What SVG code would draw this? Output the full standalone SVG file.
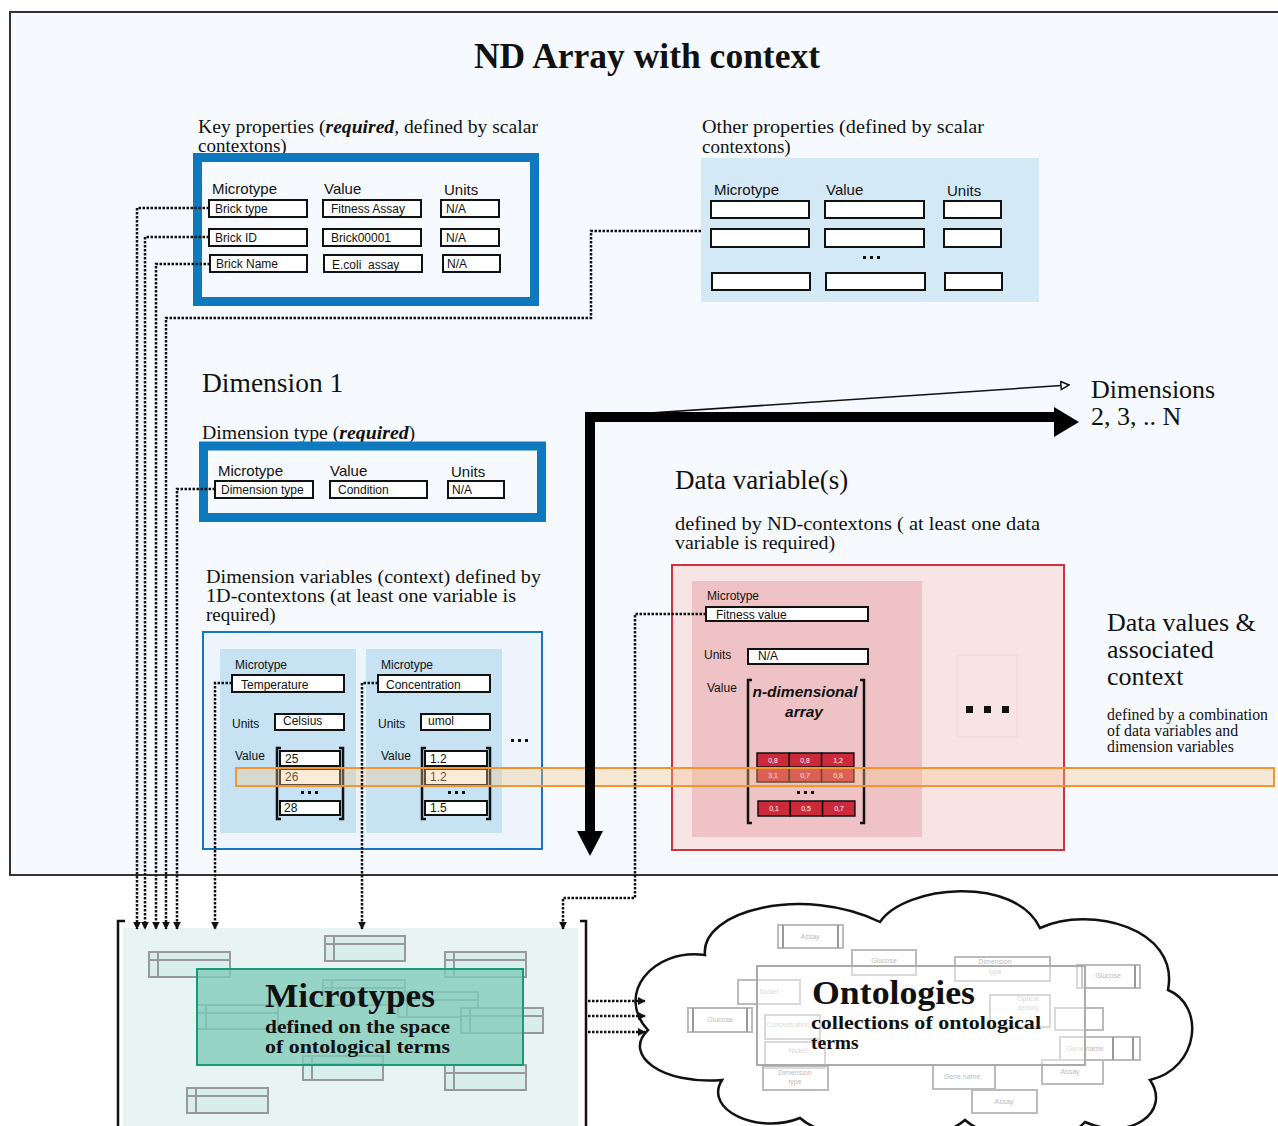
<svg xmlns="http://www.w3.org/2000/svg" width="1278" height="1126" viewBox="0 0 1278 1126">
<defs>
<style>
.serif{font-family:"Liberation Serif","Times New Roman",serif;fill:#111}
.sans{font-family:"Liberation Sans",Arial,sans-serif;fill:#111}
.hdr{font-family:"Liberation Sans",Arial,sans-serif;font-size:15px;fill:#111}
.lbl{font-family:"Liberation Sans",Arial,sans-serif;font-size:12px;fill:#111}
.fld{fill:#fff;stroke:#111;stroke-width:2}
.thick{fill:none;stroke:#0e7abd;stroke-width:9}
.dot{fill:none;stroke:#111;stroke-width:2.5;stroke-dasharray:2.5 1.5}
.brk{fill:none;stroke:#111;stroke-width:2.5}
.cell{fill:#cc2a3a;stroke:#111;stroke-width:1.5}
.cv{font-family:"Liberation Sans",Arial,sans-serif;font-size:7px;fill:#fff;text-anchor:middle}
.mt{fill:#d8eeea;stroke:#999;stroke-width:2}
.mtl{fill:none;stroke:#999;stroke-width:2}
.ob{fill:#fff;fill-opacity:0.5;stroke:#bbb;stroke-width:2}
.ot{font-family:"Liberation Sans",Arial,sans-serif;font-size:7px;fill:#bbb;text-anchor:middle}
</style>
<marker id="ah" viewBox="0 0 10 10" refX="9" refY="5" markerWidth="8" markerHeight="10" markerUnits="userSpaceOnUse" orient="auto">
<path d="M0,0 L10,5 L0,10 Z" fill="#111"/>
</marker>
<marker id="hollow" viewBox="0 0 10 10" refX="9" refY="5" markerWidth="10" markerHeight="10" markerUnits="userSpaceOnUse" orient="auto">
<path d="M1,1 L9,5 L1,9 Z" fill="#fff" stroke="#111" stroke-width="1.5"/>
</marker>
</defs>

<rect width="1278" height="1126" fill="#fff"/>

<!-- main frame -->
<g id="nd-array">
<rect x="10" y="12" width="1280" height="863" fill="#f6fafe" stroke="#333" stroke-width="2"/>
<text class="serif" x="647" y="68" font-size="35.5" font-weight="bold" text-anchor="middle">ND Array with context</text>
</g>

<!-- key properties -->
<g id="key-properties">
<text class="serif" font-size="19" x="198" y="133" textLength="340" lengthAdjust="spacingAndGlyphs">Key properties (<tspan font-weight="bold" font-style="italic">required</tspan>, defined by scalar</text>
<text class="serif" font-size="19" x="198" y="152">contextons)</text>
<rect x="197.5" y="157.5" width="337" height="144" fill="#d4e9f6" class="thick"/>
<text class="hdr" x="212" y="194">Microtype</text>
<text class="hdr" x="324" y="194">Value</text>
<text class="hdr" x="444" y="195">Units</text>
<rect class="fld" x="209" y="200" width="98" height="17"/>
<rect class="fld" x="323" y="200" width="98" height="17"/>
<rect class="fld" x="441" y="200" width="58" height="17"/>
<rect class="fld" x="209" y="229" width="98" height="17"/>
<rect class="fld" x="323" y="229" width="98" height="17"/>
<rect class="fld" x="441" y="229" width="58" height="17"/>
<rect class="fld" x="210" y="255" width="97" height="17"/>
<rect class="fld" x="324" y="255" width="98" height="17"/>
<rect class="fld" x="443" y="255" width="57" height="17"/>
<text class="lbl" x="215" y="213">Brick type</text>
<text class="lbl" x="331" y="213">Fitness Assay</text>
<text class="lbl" x="446" y="213">N/A</text>
<text class="lbl" x="215" y="242">Brick ID</text>
<text class="lbl" x="331" y="242">Brick00001</text>
<text class="lbl" x="446" y="242">N/A</text>
<text class="lbl" x="216" y="268">Brick Name</text>
<text class="lbl" x="332" y="269" xml:space="preserve">E.coli  assay</text>
<text class="lbl" x="447" y="268">N/A</text>
</g>

<!-- other properties -->
<g id="other-properties">
<text class="serif" font-size="19" x="702" y="133" textLength="282" lengthAdjust="spacingAndGlyphs">Other properties (defined by scalar</text>
<text class="serif" font-size="19" x="702" y="153">contextons)</text>
<rect x="701" y="158" width="338" height="144" fill="#d4e9f6"/>
<text class="hdr" x="714" y="195">Microtype</text>
<text class="hdr" x="826" y="195">Value</text>
<text class="hdr" x="947" y="196">Units</text>
<rect class="fld" x="711" y="201" width="98" height="17"/>
<rect class="fld" x="825" y="201" width="99" height="17"/>
<rect class="fld" x="944" y="201" width="57" height="17"/>
<rect class="fld" x="711" y="229" width="98" height="18"/>
<rect class="fld" x="825" y="229" width="99" height="18"/>
<rect class="fld" x="944" y="229" width="57" height="18"/>
<rect class="fld" x="712" y="273" width="98" height="17"/>
<rect class="fld" x="826" y="273" width="99" height="17"/>
<rect class="fld" x="945" y="273" width="57" height="17"/>
<rect x="863" y="256" width="3" height="3" fill="#111"/>
<rect x="870" y="256" width="3" height="3" fill="#111"/>
<rect x="877" y="256" width="3" height="3" fill="#111"/>
</g>

<!-- dimension 1 -->
<g id="dimension-1">
<text class="serif" x="202" y="392" font-size="27.5">Dimension 1</text>
<text class="serif" font-size="19.8" x="202" y="439">Dimension type (<tspan font-weight="bold" font-style="italic">required</tspan>)</text>
<rect x="203.5" y="446" width="338" height="71.5" fill="#d4e9f6" class="thick"/>
<text class="hdr" x="218" y="476">Microtype</text>
<text class="hdr" x="330" y="476">Value</text>
<text class="hdr" x="451" y="477">Units</text>
<rect class="fld" x="215" y="481" width="98" height="17"/>
<rect class="fld" x="330" y="481" width="97" height="17"/>
<rect class="fld" x="448" y="481" width="56" height="17"/>
<text class="lbl" x="221" y="494">Dimension type</text>
<text class="lbl" x="338" y="494">Condition</text>
<text class="lbl" x="452" y="494">N/A</text>
</g>

<!-- dimension variables -->
<g id="dimension-variables">
<text class="serif" font-size="19" x="206" y="583" textLength="335" lengthAdjust="spacingAndGlyphs">Dimension variables (context) defined by</text>
<text class="serif" font-size="19" x="206" y="602" textLength="310" lengthAdjust="spacingAndGlyphs">1D-contextons (at least one variable is</text>
<text class="serif" font-size="19" x="206" y="621">required)</text>
<rect x="203" y="632" width="339" height="217" fill="#edf4fb" stroke="#1478be" stroke-width="2"/>
<rect x="220" y="649" width="136" height="184" fill="#c6e2f3"/>
<rect x="366" y="649" width="136" height="184" fill="#c6e2f3"/>
<text class="lbl" x="235" y="669">Microtype</text>
<rect class="fld" x="232" y="675" width="112" height="17"/>
<text class="lbl" x="241" y="689">Temperature</text>
<text class="lbl" x="232" y="728">Units</text>
<rect class="fld" x="275" y="714" width="69" height="16"/>
<text class="lbl" x="283" y="725">Celsius</text>
<text class="lbl" x="235" y="760">Value</text>
<path class="brk" d="M281,748 H277 V819 H281 M339,748 H343 V819 H339"/>
<rect class="fld" x="280" y="751" width="60" height="15"/>
<rect class="fld" x="280" y="769" width="60" height="16"/>
<rect class="fld" x="280" y="801" width="60" height="14"/>
<text class="lbl" x="285" y="763">25</text>
<text class="lbl" x="285" y="781">26</text>
<text class="lbl" x="284" y="812">28</text>
<rect x="301" y="791" width="3" height="3" fill="#111"/>
<rect x="308" y="791" width="3" height="3" fill="#111"/>
<rect x="315" y="791" width="3" height="3" fill="#111"/>

<text class="lbl" x="381" y="669">Microtype</text>
<rect class="fld" x="378" y="675" width="112" height="17"/>
<text class="lbl" x="386" y="689">Concentration</text>
<text class="lbl" x="378" y="728">Units</text>
<rect class="fld" x="421" y="714" width="69" height="16"/>
<text class="lbl" x="428" y="725">umol</text>
<text class="lbl" x="381" y="760">Value</text>
<path class="brk" d="M426,748 H422 V819 H426 M486,748 H490 V819 H486"/>
<rect class="fld" x="425" y="751" width="62" height="15"/>
<rect class="fld" x="425" y="769" width="62" height="16"/>
<rect class="fld" x="425" y="801" width="62" height="14"/>
<text class="lbl" x="430" y="763">1.2</text>
<text class="lbl" x="430" y="781">1.2</text>
<text class="lbl" x="430" y="812">1.5</text>
<rect x="448" y="791" width="3" height="3" fill="#111"/>
<rect x="455" y="791" width="3" height="3" fill="#111"/>
<rect x="462" y="791" width="3" height="3" fill="#111"/>
<rect x="511" y="739" width="3" height="3" fill="#111"/>
<rect x="518" y="739" width="3" height="3" fill="#111"/>
<rect x="525" y="739" width="3" height="3" fill="#111"/>
</g>

<!-- data variables -->
<g id="data-variables">
<text class="serif" x="675" y="489" font-size="27">Data variable(s)</text>
<text class="serif" font-size="19" x="675" y="530" textLength="365" lengthAdjust="spacingAndGlyphs">defined by ND-contextons ( at least one data</text>
<text class="serif" font-size="19" x="675" y="549" textLength="160" lengthAdjust="spacingAndGlyphs">variable is required)</text>
<rect x="672" y="565" width="392" height="285" fill="#f9e4e4" stroke="#cf3340" stroke-width="2"/>
<rect x="692" y="581" width="230" height="256" fill="#efc3c5"/>
<rect x="957" y="655" width="60" height="82" fill="none" stroke="#f6d4d4" stroke-width="1"/>
<text class="lbl" x="707" y="600">Microtype</text>
<rect class="fld" x="706" y="607" width="162" height="14"/>
<text class="lbl" x="716" y="619">Fitness value</text>
<text class="lbl" x="704" y="659">Units</text>
<rect class="fld" x="748" y="649" width="120" height="15"/>
<text class="lbl" x="758" y="660">N/A</text>
<text class="lbl" x="707" y="692">Value</text>
<path class="brk" d="M752,680 H748 V823 H752 M860,680 H864 V823 H860"/>
<text class="sans" x="805" y="697" font-size="15.5" font-weight="bold" font-style="italic" text-anchor="middle">n-dimensional</text>
<text class="sans" x="804" y="717" font-size="15.5" font-weight="bold" font-style="italic" text-anchor="middle">array</text>
<rect class="cell" x="757" y="753" width="32.3" height="14"/>
<rect class="cell" x="789.3" y="753" width="32.3" height="14"/>
<rect class="cell" x="821.6" y="753" width="32.3" height="14"/>
<rect class="cell" x="757" y="768" width="32.3" height="14"/>
<rect class="cell" x="789.3" y="768" width="32.3" height="14"/>
<rect class="cell" x="821.6" y="768" width="32.3" height="14"/>
<rect class="cell" x="758" y="801" width="32.3" height="15"/>
<rect class="cell" x="790.3" y="801" width="32.3" height="15"/>
<rect class="cell" x="822.6" y="801" width="32.3" height="15"/>
<text class="cv" x="773" y="763">0,8</text>
<text class="cv" x="805" y="763">0,8</text>
<text class="cv" x="838" y="763">1,2</text>
<text class="cv" x="773" y="778">3,1</text>
<text class="cv" x="805" y="778">0,7</text>
<text class="cv" x="838" y="778">0,8</text>
<text class="cv" x="774" y="811">0,1</text>
<text class="cv" x="806" y="811">0,5</text>
<text class="cv" x="839" y="811">0,7</text>
<rect x="797" y="791" width="3" height="3" fill="#111"/>
<rect x="804" y="791" width="3" height="3" fill="#111"/>
<rect x="811" y="791" width="3" height="3" fill="#111"/>
<rect x="966" y="706" width="7" height="7" fill="#111"/>
<rect x="984" y="706" width="7" height="7" fill="#111"/>
<rect x="1002" y="706" width="7" height="7" fill="#111"/>
</g>

<!-- right texts -->
<g id="dimensions-label">
<text class="serif" font-size="26"><tspan x="1091" y="398">Dimensions</tspan><tspan x="1091" y="425">2, 3, .. N</tspan></text>
</g>
<g id="data-values">
<text class="serif" font-size="26"><tspan x="1107" y="631">Data values &amp;</tspan><tspan x="1107" y="658">associated</tspan><tspan x="1107" y="685">context</tspan></text>
<text class="serif" font-size="15.8"><tspan x="1107" y="720">defined by a combination</tspan><tspan x="1107" y="736">of data variables and</tspan><tspan x="1107" y="752">dimension variables</tspan></text>
</g>

<!-- orange row band -->
<g id="row-band">
<rect x="236" y="768" width="1038" height="18" fill="#f7c68a" fill-opacity="0.35" stroke="#f39530" stroke-width="2"/>
</g>

<!-- microtypes -->
<g id="microtypes">
<rect x="123" y="928" width="455" height="198" fill="#e8f4f1"/>
<path class="brk" d="M125,921 H118 V1126 M580,921 H586 V1126"/>
<g>
<rect class="mt" x="149" y="952" width="81" height="25"/><path class="mtl" d="M158,952 V977 M149,960 H230"/>
<rect class="mt" x="325" y="936" width="80" height="25"/><path class="mtl" d="M334,936 V961 M325,944 H405"/>
<rect class="mt" x="445" y="952" width="81" height="25"/><path class="mtl" d="M454,952 V977 M445,960 H526"/>
<rect class="mt" x="323" y="980" width="82" height="25"/><path class="mtl" d="M332,980 V1005 M323,988 H405"/>
<rect class="mt" x="398" y="992" width="80" height="25"/><path class="mtl" d="M407,992 V1017 M398,1000 H478"/>
<rect class="mt" x="197" y="1005" width="81" height="24"/><path class="mtl" d="M206,1005 V1029 M197,1013 H278"/>
<rect class="mt" x="461" y="1008" width="82" height="25"/><path class="mtl" d="M470,1008 V1033 M461,1016 H543"/>
<rect class="mt" x="303" y="1056" width="80" height="24"/><path class="mtl" d="M312,1056 V1080 M303,1064 H383"/>
<rect class="mt" x="445" y="1065" width="81" height="25"/><path class="mtl" d="M454,1065 V1090 M445,1073 H526"/>
<rect class="mt" x="187" y="1088" width="81" height="25"/><path class="mtl" d="M196,1088 V1113 M187,1096 H268"/>
</g>
<rect x="197" y="969" width="326" height="96" fill="#7fcbb8" fill-opacity="0.78" stroke="#1b9a78" stroke-width="2"/>
<text class="serif" x="265" y="1007" font-size="34" font-weight="bold" textLength="170" lengthAdjust="spacingAndGlyphs">Microtypes</text>
<text class="serif" x="265" y="1033" font-size="19.5" font-weight="bold" textLength="185" lengthAdjust="spacingAndGlyphs">defined on the space</text>
<text class="serif" x="265" y="1053" font-size="19.5" font-weight="bold" textLength="185" lengthAdjust="spacingAndGlyphs">of ontological terms</text>
</g>

<!-- ontologies -->
<g id="ontologies">
<path d="M648,1030 C615,995 652,948 705,955 C700,910 805,885 880,922 C905,885 1015,875 1040,928 C1090,905 1180,928 1168,990 C1205,1005 1200,1068 1150,1080 C1172,1112 1130,1142 1085,1122 C1060,1150 990,1142 965,1120 C930,1150 830,1145 800,1118 C758,1135 703,1110 722,1080 C662,1085 622,1055 648,1030 Z" fill="#fff" stroke="#111" stroke-width="2.5"/>
<g>
<rect class="ob" x="778" y="925" width="65" height="23"/><path class="mtl" d="M783,925 V948 M838,925 V948" stroke="#bbb"/><text class="ot" x="810" y="939">Assay</text>
<rect class="ob" x="852" y="950" width="64" height="25"/><text class="ot" x="884" y="963">Glucose</text>
<rect class="ob" x="955" y="957" width="95" height="24"/><text class="ot" x="995" y="964">Dimension</text><text class="ot" x="995" y="974">type</text>
<rect class="ob" x="1077" y="965" width="63" height="23"/><path class="mtl" d="M1082,965 V988 M1135,965 V988" stroke="#bbb"/><text class="ot" x="1108" y="978">Glucose</text>
<rect class="ob" x="738" y="980" width="62" height="24"/><text class="ot" x="769" y="994">Nickel</text>
<rect class="ob" x="688" y="1008" width="64" height="24"/><path class="mtl" d="M693,1008 V1032 M747,1008 V1032" stroke="#bbb"/><text class="ot" x="720" y="1022">Glucose</text>
<rect class="ob" x="990" y="995" width="60" height="32"/><text class="ot" x="1028" y="1001">Optical</text><text class="ot" x="1028" y="1010">density</text>
<rect class="ob" x="1055" y="1008" width="48" height="22"/>
<rect class="ob" x="765" y="1015" width="55" height="24"/><text class="ot" x="788" y="1027">Concentration</text>
<rect class="ob" x="765" y="1042" width="60" height="26"/><text class="ot" x="798" y="1053">Nickel</text>
<rect class="ob" x="1060" y="1037" width="80" height="23"/><path class="mtl" d="M1113,1037 V1060 M1133,1037 V1060" stroke="#bbb"/><text class="ot" x="1085" y="1051">Gene name</text>
<rect class="ob" x="763" y="1066" width="65" height="24"/><text class="ot" x="795" y="1075">Dimension</text><text class="ot" x="795" y="1084">type</text>
<rect class="ob" x="933" y="1065" width="62" height="24"/><text class="ot" x="962" y="1079">Gene name</text>
<rect class="ob" x="1042" y="1060" width="61" height="24"/><text class="ot" x="1070" y="1074">Assay</text>
<rect class="ob" x="972" y="1090" width="65" height="23"/><text class="ot" x="1004" y="1104">Assay</text>
</g>
<rect x="757" y="966" width="328" height="99" fill="#fff" fill-opacity="0.45" stroke="#aaa" stroke-width="2"/>
<text class="serif" x="812" y="1004" font-size="34" font-weight="bold" textLength="163" lengthAdjust="spacingAndGlyphs">Ontologies</text>
<text class="serif" x="811" y="1029" font-size="19.5" font-weight="bold" textLength="230" lengthAdjust="spacingAndGlyphs">collections of ontological</text>
<text class="serif" x="811" y="1049" font-size="19.5" font-weight="bold">terms</text>
</g>

<!-- connectors -->
<g id="connectors">
<path class="dot" d="M209,208 H137 V929" marker-end="url(#ah)"/>
<path class="dot" d="M209,237 H145 V929" marker-end="url(#ah)"/>
<path class="dot" d="M210,264 H156 V929" marker-end="url(#ah)"/>
<path class="dot" d="M701,231 H591 V318 H166 V929" marker-end="url(#ah)"/>
<path class="dot" d="M215,489 H177 V929" marker-end="url(#ah)"/>
<path class="dot" d="M232,683 H215 V929" marker-end="url(#ah)"/>
<path class="dot" d="M378,683 H362 V929" marker-end="url(#ah)"/>
<path class="dot" d="M706,614 H635 V898 H563 V929" marker-end="url(#ah)"/>
<path class="dot" d="M588,1001 H645" marker-end="url(#ah)"/>
<path class="dot" d="M588,1016 H645" marker-end="url(#ah)"/>
<path class="dot" d="M588,1032 H645" marker-end="url(#ah)"/>
<path d="M590,417 L1069,385" fill="none" stroke="#111" stroke-width="1.5" marker-end="url(#hollow)"/>
<path d="M590,832 V417 H1056" fill="none" stroke="#000" stroke-width="10"/>
<path d="M1054,407 L1079,422 L1054,437 Z" fill="#000"/>
<path d="M577,831 L603,831 L590,856 Z" fill="#000"/>
</g>
</svg>
